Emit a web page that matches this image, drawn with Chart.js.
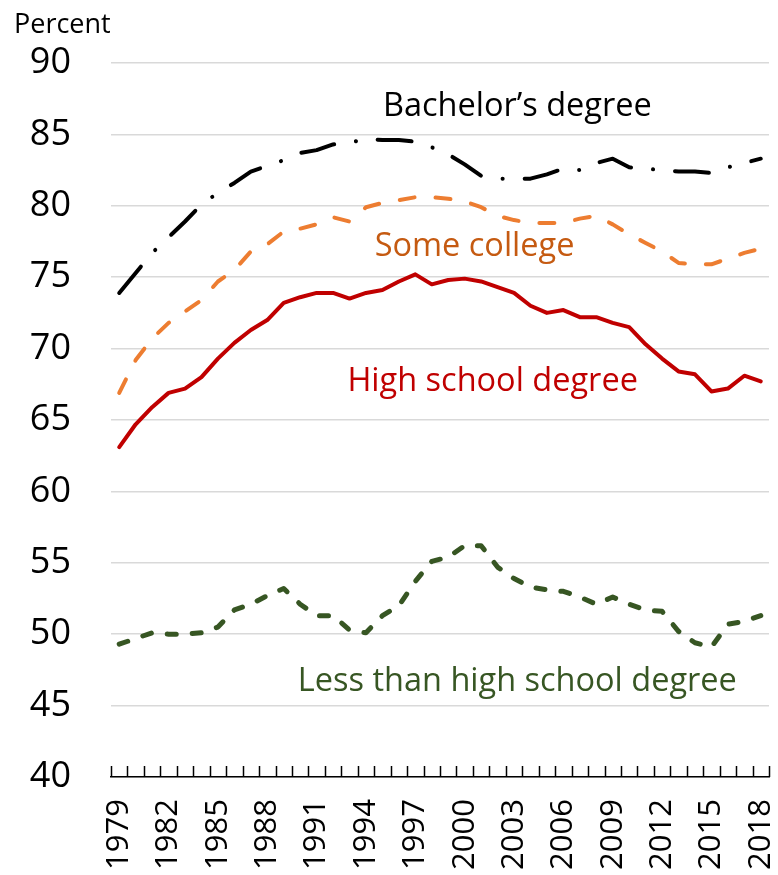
<!DOCTYPE html>
<html>
<head>
<meta charset="utf-8">
<script src="https://cdn.jsdelivr.net/npm/chart.js@4.4.1/dist/chart.umd.min.js"></script>
<style>
  html, body { margin: 0; padding: 0; background: #fff; }
  #wrap { width: 778px; height: 875px; position: relative; }
</style>
</head>
<body>
<div id="wrap"><canvas id="chart"></canvas></div>
<script>
// Employment rate by education, 1979-2018
const years = [1979, 1980, 1981, 1982, 1983, 1984, 1985, 1986, 1987, 1988,
  1989, 1990, 1991, 1992, 1993, 1994, 1995, 1996, 1997, 1998,
  1999, 2000, 2001, 2002, 2003, 2004, 2005, 2006, 2007, 2008,
  2009, 2010, 2011, 2012, 2013, 2014, 2015, 2016, 2017, 2018];

const bachelors = [73.9, 75.3, 76.7, 77.8, 78.9, 80.1, 80.9, 81.6, 82.4, 82.8,
  83.2, 83.7, 83.9, 84.3, 84.4, 84.7, 84.6, 84.6, 84.5, 84.1,
  83.6, 82.9, 82.1, 81.9, 81.9, 81.9, 82.2, 82.6, 82.5, 83.0,
  83.3, 82.7, 82.6, 82.5, 82.4, 82.4, 82.3, 82.7, 83.0, 83.3];

const someCollege = [66.9, 69.2, 70.7, 71.8, 72.6, 73.4, 74.7, 75.5, 76.8, 77.3,
  78.2, 78.4, 78.7, 79.2, 78.9, 79.9, 80.2, 80.4, 80.6, 80.6,
  80.5, 80.3, 79.9, 79.3, 79.0, 78.8, 78.8, 78.8, 79.1, 79.3,
  78.7, 78.0, 77.4, 76.8, 76.0, 75.9, 75.9, 76.3, 76.7, 77.0];

const highSchool = [63.1, 64.7, 65.9, 66.9, 67.2, 68.0, 69.3, 70.4, 71.3, 72.0,
  73.2, 73.6, 73.9, 73.9, 73.5, 73.9, 74.1, 74.7, 75.2, 74.5,
  74.8, 74.9, 74.7, 74.3, 73.9, 73.0, 72.5, 72.7, 72.2, 72.2,
  71.8, 71.5, 70.3, 69.3, 68.4, 68.2, 67.0, 67.2, 68.1, 67.7];

const lessThanHS = [49.3, 49.7, 50.1, 50.0, 50.0, 50.1, 50.5, 51.7, 52.1, 52.7,
  53.2, 52.1, 51.3, 51.3, 50.3, 50.1, 51.3, 52.0, 53.7, 55.1,
  55.4, 56.2, 56.2, 54.7, 53.9, 53.3, 53.1, 53.0, 52.6, 52.1,
  52.6, 52.1, 51.7, 51.6, 50.2, 49.4, 49.1, 50.7, 50.9, 51.3];

const yTicks = [40, 45, 50, 55, 60, 65, 70, 75, 80, 85, 90];

// series labels placed in data coordinates (category index, value)
const seriesLabels = [
  { text: 'Bachelor\u2019s degree', idx: 24.2, value: 86.27, color: '#000000' },
  { text: 'Some college', idx: 21.6, value: 76.5, color: '#C55A11' },
  { text: 'High school degree', idx: 22.7, value: 67.0, color: '#C00000' },
  { text: 'Less than high school degree', idx: 24.2, value: 46.05, color: '#375623' }
];

const FONT = "'Open Sans', sans-serif";

// inside tick marks on the category axis + text labels
const decorPlugin = {
  id: 'decor',
  afterDraw(chart) {
    const ctx = chart.ctx;
    const x = chart.scales.x;
    const y = chart.scales.y;
    const n = years.length;
    ctx.save();
    ctx.strokeStyle = '#000';
    ctx.lineWidth = 1.5;
    ctx.beginPath();
    for (let i = 0; i <= n; i++) {
      const px = Math.round(x.left + i * (x.width / n)) + 0.5;
      ctx.moveTo(px, x.top - 11);
      ctx.lineTo(px, x.top);
    }
    ctx.stroke();

    ctx.textAlign = 'center';
    ctx.textBaseline = 'alphabetic';
    ctx.font = '32.5px ' + FONT;
    seriesLabels.forEach(l => {
      ctx.fillStyle = l.color;
      ctx.fillText(l.text, x.getPixelForValue(l.idx), y.getPixelForValue(l.value));
    });

    ctx.fillStyle = '#000';
    ctx.textAlign = 'left';
    ctx.font = '27px ' + FONT;
    ctx.fillText('Percent', 14, 33);
    ctx.restore();
  }
};

const ctx = document.getElementById('chart');
new Chart(ctx, {
  type: 'line',
  data: {
    labels: years,
    datasets: [
      {
        label: 'Bachelor\u2019s degree',
        data: bachelors,
        borderColor: '#000000',
        borderWidth: 4,
        borderDash: [34, 22, 0.1, 22],
        borderCapStyle: 'round',
        borderJoinStyle: 'round',
        pointRadius: 0,
        tension: 0
      },
      {
        label: 'Some college',
        data: someCollege,
        borderColor: '#ED7D31',
        borderWidth: 4,
        borderDash: [15, 21],
        borderCapStyle: 'round',
        borderJoinStyle: 'round',
        pointRadius: 0,
        tension: 0
      },
      {
        label: 'High school degree',
        data: highSchool,
        borderColor: '#C00000',
        borderWidth: 4,
        borderCapStyle: 'round',
        borderJoinStyle: 'round',
        pointRadius: 0,
        tension: 0
      },
      {
        label: 'Less than high school degree',
        data: lessThanHS,
        borderColor: '#375623',
        borderWidth: 5,
        borderDash: [9, 16],
        borderCapStyle: 'round',
        borderJoinStyle: 'round',
        pointRadius: 0,
        tension: 0
      }
    ]
  },
  options: {
    responsive: true,
    maintainAspectRatio: false,
    animation: false,
    layout: { padding: { left: 28, right: 9, top: 63, bottom: 0 } },
    plugins: {
      legend: { display: false },
      tooltip: { enabled: false }
    },
    scales: {
      x: {
        offset: true,
        grid: { display: false, drawTicks: false },
        border: { display: true, color: '#000', width: 1.5 },
        ticks: {
          autoSkip: false,
          minRotation: 90,
          maxRotation: 90,
          padding: 22,
          color: '#000',
          font: { family: FONT, size: 31 },
          callback: function (val, i) { return i % 3 === 0 ? years[i] : ''; }
        },
        afterFit: axis => {
          axis.height = 98;
          axis.paddingLeft = 0;
          axis.paddingRight = 0;
        }
      },
      y: {
        min: 40,
        max: 90,
        afterBuildTicks: axis => { axis.ticks = yTicks.map(v => ({ value: v })); },
        grid: { color: '#D9D9D9', lineWidth: 1.5, drawTicks: false },
        border: { display: false },
        ticks: {
          padding: 40,
          color: '#000',
          font: { family: FONT, size: 36 }
        },
        afterFit: axis => {
          axis.width = 83;
          axis.paddingTop = 0;
          axis.paddingBottom = 0;
        }
      }
    }
  },
  plugins: [decorPlugin]
});
</script>
</body>
</html>
